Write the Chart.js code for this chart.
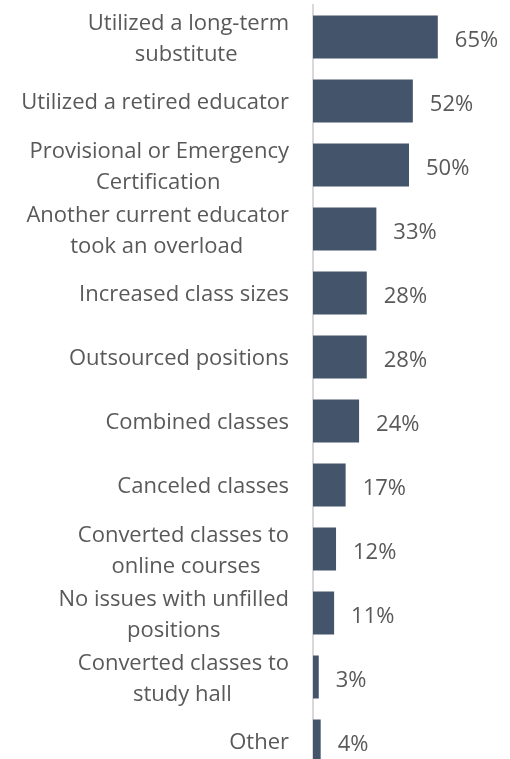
<!DOCTYPE html>
<html>
<head>
<meta charset="utf-8">
<script src="https://cdn.jsdelivr.net/npm/chart.js@4.4.1/dist/chart.umd.min.js"></script>
<style>
  html, body { margin: 0; padding: 0; background: #fff; overflow: hidden; }
  #wrap { width: 510px; height: 759px; overflow: hidden; position: relative; }
  canvas { display: block; }
</style>
</head>
<body>
<div id="wrap"><canvas id="c" width="510" height="773"></canvas></div>
<script>
const categories = [
  ["Utilized a long-term", "substitute"],
  ["Utilized a retired educator"],
  ["Provisional or Emergency", "Certification"],
  ["Another current educator", "took an overload"],
  ["Increased class sizes"],
  ["Outsourced positions"],
  ["Combined classes"],
  ["Canceled classes"],
  ["Converted classes to", "online courses"],
  ["No issues with unfilled", "positions"],
  ["Converted classes to", "study hall"],
  ["Other"]
];
const values = [65, 52, 50, 33, 28, 28, 24, 17, 12, 11, 3, 4];
const valueLabels = ["65%", "52%", "50%", "33%", "28%", "28%", "24%", "17%", "12%", "11%", "3%", "4%"];

const FONT_FAMILY = "'Open Sans', 'Noto Sans', sans-serif";
const FONT_SIZE = 22;
const TEXT_COLOR = '#595959';

// Centre each line of a multi-line label within its block by padding with trailing spaces
const mctx = document.createElement('canvas').getContext('2d');
mctx.font = FONT_SIZE + 'px ' + FONT_FAMILY;
const spaceW = mctx.measureText(' ').width;
function centreLines(lines) {
  if (lines.length === 1) return lines[0];
  const widths = lines.map(l => mctx.measureText(l).width);
  const maxW = Math.max(...widths);
  return lines.map((l, i) => {
    const n = Math.round((maxW - widths[i]) / 2 / spaceW);
    return l + ' '.repeat(n);
  });
}
const tickLabels = categories.map(centreLines);

const valueLabelPlugin = {
  id: 'valueLabels',
  afterDatasetsDraw(chart) {
    const ctx = chart.ctx;
    const meta = chart.getDatasetMeta(0);
    ctx.save();
    ctx.font = FONT_SIZE + 'px ' + FONT_FAMILY;
    ctx.fillStyle = TEXT_COLOR;
    ctx.textAlign = 'left';
    ctx.textBaseline = 'middle';
    meta.data.forEach((bar, i) => {
      ctx.fillText(valueLabels[i], bar.x + 17, bar.y + 4);
    });
    ctx.restore();
  }
};

new Chart(document.getElementById('c'), {
  type: 'bar',
  data: {
    labels: tickLabels,
    datasets: [{
      data: values,
      backgroundColor: '#44546A',
      borderWidth: 0,
      categoryPercentage: 1,
      barPercentage: 0.672
    }]
  },
  options: {
    indexAxis: 'y',
    responsive: false,
    animation: false,
    layout: { padding: { top: 5, right: 5, bottom: 0, left: 0 } },
    plugins: {
      legend: { display: false },
      tooltip: { enabled: false },
      title: { display: false }
    },
    scales: {
      x: {
        display: false,
        min: 0,
        max: 100
      },
      y: {
        afterFit(scale) {
          scale.width = 313;
          scale.paddingTop = 0;
          scale.paddingBottom = 0;
        },
        grid: { display: false, drawTicks: false },
        border: { display: true, color: '#D9D9D9', width: 2 },
        ticks: {
          color: TEXT_COLOR,
          padding: 24,
          labelOffset: 2,
          autoSkip: false,
          font: { family: FONT_FAMILY, size: FONT_SIZE, lineHeight: '31px' }
        }
      }
    }
  },
  plugins: [valueLabelPlugin]
});
</script>
</body>
</html>
